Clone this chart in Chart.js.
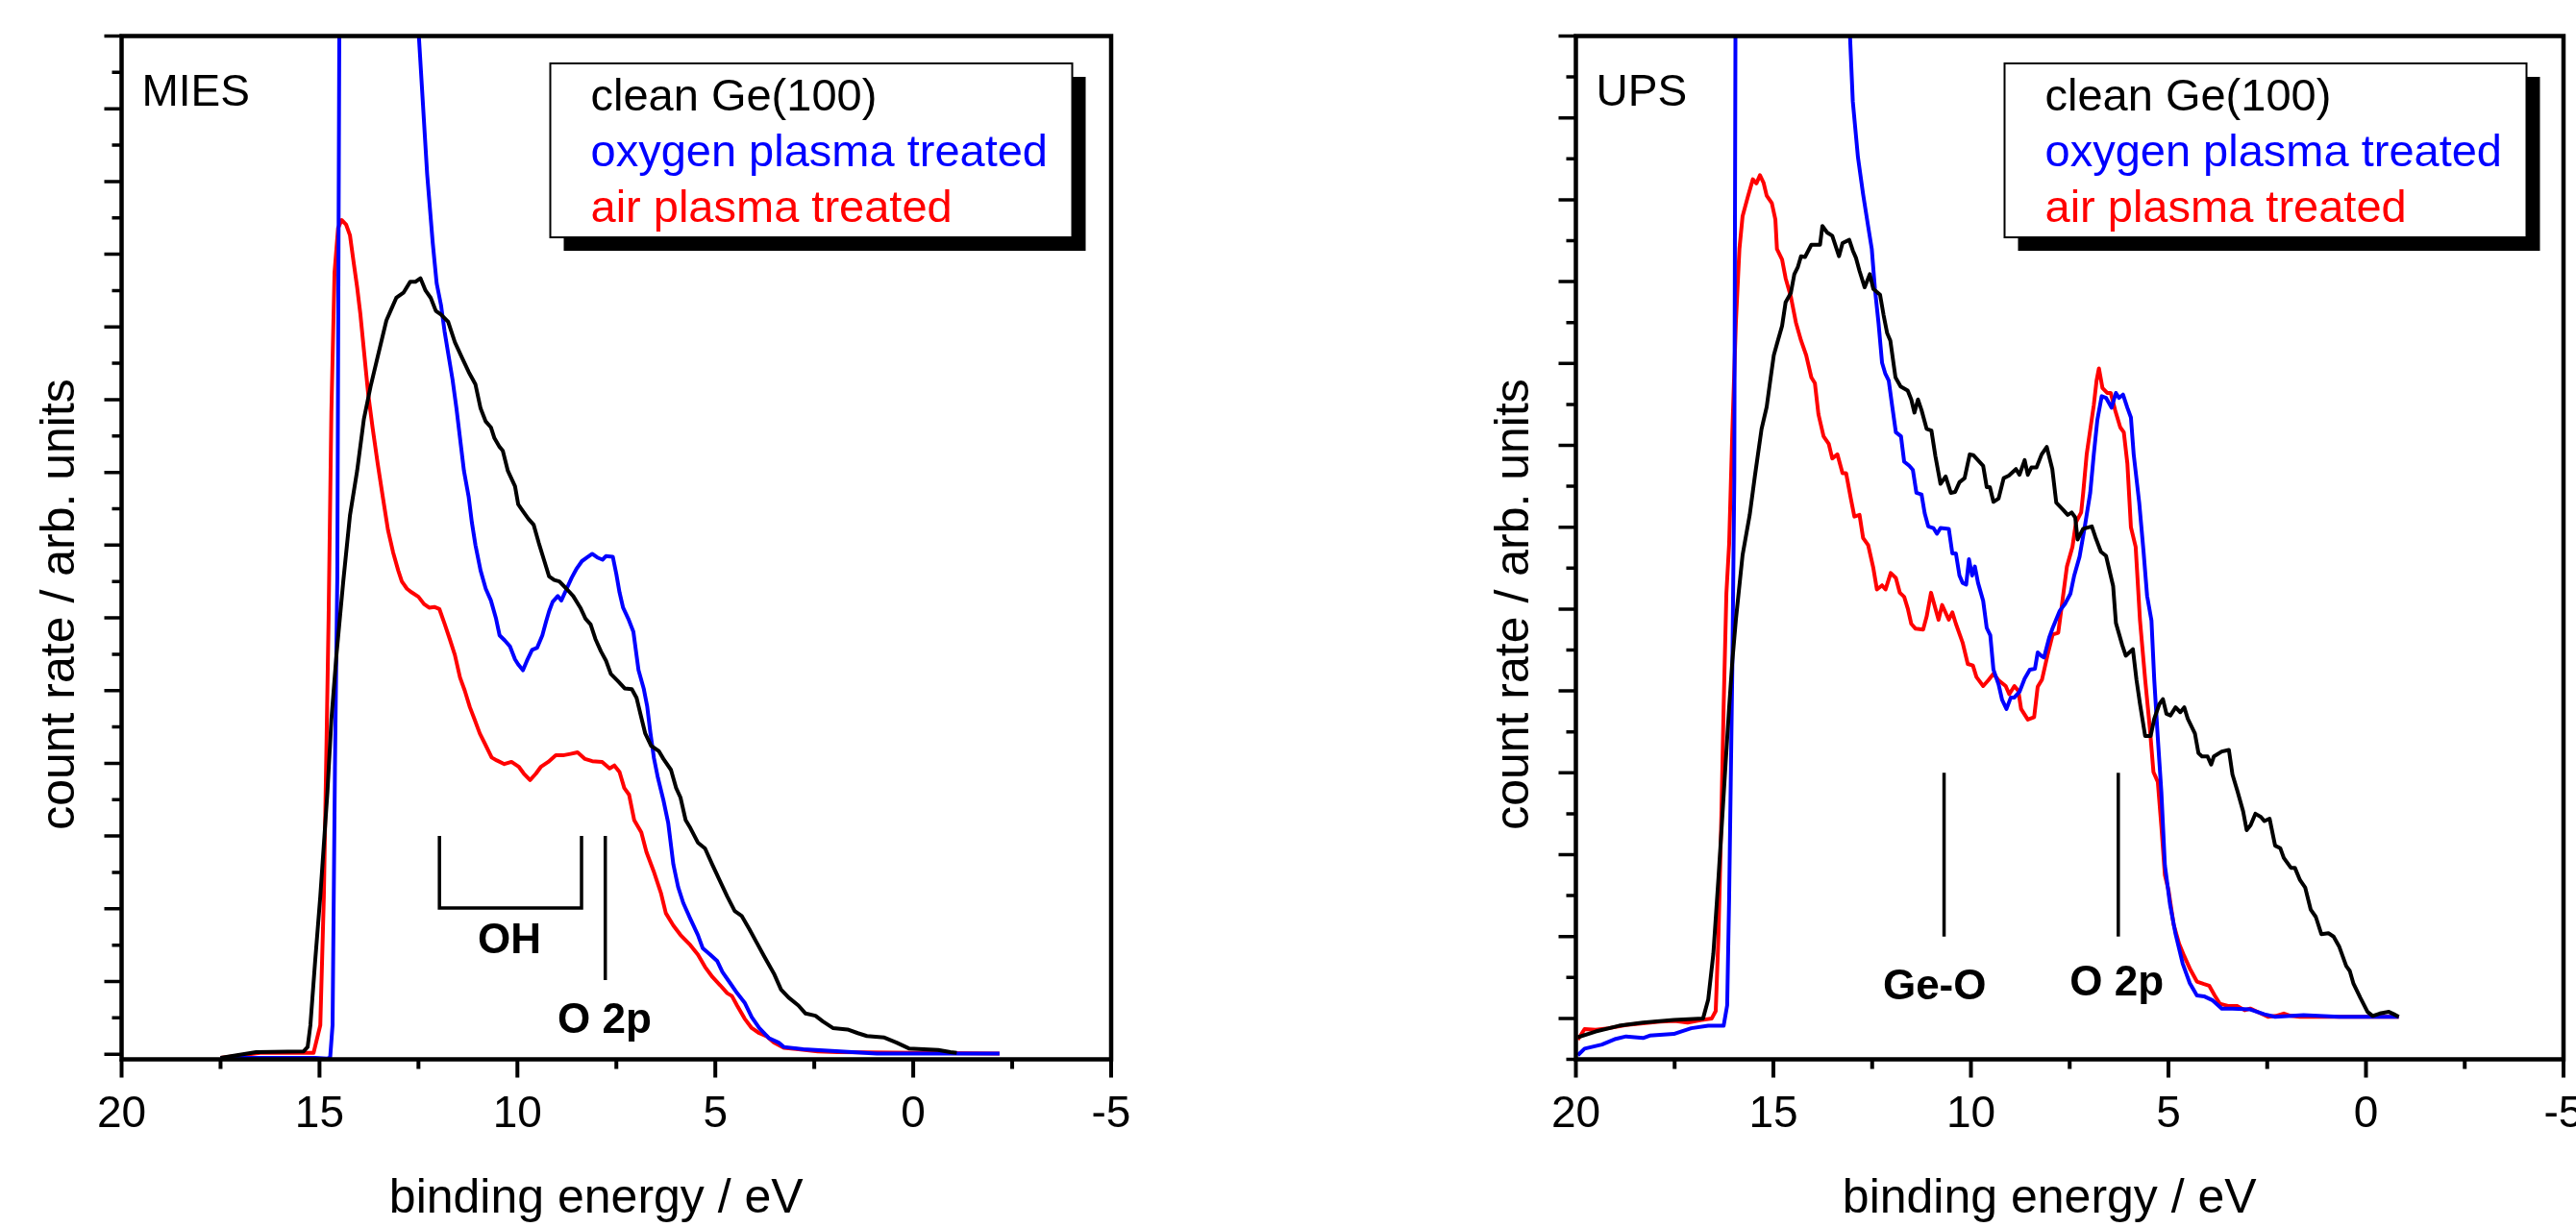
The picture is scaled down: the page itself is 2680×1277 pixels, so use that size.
<!DOCTYPE html>
<html>
<head>
<meta charset="utf-8">
<script src="https://cdn.jsdelivr.net/npm/chart.js@4.4.1/dist/chart.umd.min.js"></script>
<style>
  body { margin: 0; background: #fff; }
  #wrap { display: flex; width: 2680px; height: 1277px; }
  canvas { display: block; }
</style>
</head>
<body>
<div id="wrap">
  <canvas id="mies" width="1340" height="1277"></canvas>
  <canvas id="ups" width="1340" height="1277"></canvas>
</div>
<script>
// series names and colours
var seriesNames = ['clean Ge(100)', 'oxygen plasma treated', 'air plasma treated'];
var seriesColors = ['#000000', '#0000ff', '#ff0000'];

// x axis ticks (binding energy / eV)
var xMajorTicks = [20, 15, 10, 5, 0, -5];
var xMinorTicks = [17.5, 12.5, 7.5, 2.5, -2.5];

// MIES panel, clean Ge(100)
var miesCleanE = [17.5, 16.6, 15.4, 15.3, 15.23, 15.11, 14.98, 14.8, 14.7, 14.57, 14.4, 14.23, 14.05, 13.88, 13.71, 13.53, 13.31, 13.19, 13.06, 12.88, 12.71, 12.58, 12.45, 12.32, 12.19, 12.06, 11.93, 11.75, 11.58, 11.41, 11.23, 11.06, 10.93, 10.8, 10.67, 10.58, 10.45, 10.37, 10.24, 10.06, 9.98, 9.85, 9.72, 9.59, 9.46, 9.33, 9.2, 9.07, 8.94, 8.76, 8.59, 8.41, 8.28, 8.15, 8.03, 7.89, 7.76, 7.64, 7.46, 7.29, 7.11, 6.99, 6.87, 6.77, 6.62, 6.43, 6.31, 6.12, 5.99, 5.88, 5.75, 5.63, 5.44, 5.26, 5.07, 4.88, 4.7, 4.51, 4.33, 4.14, 3.95, 3.77, 3.52, 3.34, 3.15, 2.9, 2.72, 2.47, 2.28, 2.03, 1.66, 1.4, 1.17, 0.73, 0.42, 0.11, -0.26, -0.63, -0.94, -1.1];
var miesCleanY = [-0.05, 0.03, 0.04, 0.1, 0.4, 1.28, 2.17, 3.6, 4.6, 5.5, 6.5, 7.41, 8.02, 8.73, 9.18, 9.59, 10.09, 10.24, 10.4, 10.47, 10.62, 10.62, 10.67, 10.5, 10.4, 10.22, 10.17, 10.07, 9.79, 9.59, 9.38, 9.21, 8.88, 8.7, 8.62, 8.47, 8.35, 8.3, 8.02, 7.81, 7.56, 7.46, 7.36, 7.28, 7.03, 6.8, 6.57, 6.52, 6.5, 6.4, 6.3, 6.14, 5.99, 5.91, 5.71, 5.54, 5.41, 5.23, 5.13, 5.03, 5.02, 4.9, 4.63, 4.41, 4.24, 4.17, 4.06, 3.91, 3.66, 3.53, 3.22, 3.11, 2.91, 2.83, 2.6, 2.38, 2.17, 1.97, 1.9, 1.72, 1.53, 1.35, 1.11, 0.89, 0.78, 0.67, 0.56, 0.53, 0.45, 0.36, 0.34, 0.29, 0.25, 0.23, 0.16, 0.08, 0.07, 0.06, 0.03, 0.02];

// MIES panel, oxygen plasma treated (peak runs off the top of the frame)
var miesOxygenE = [17.5, 15.1, 14.8, 14.73, 14.67, 14.61, 14.55, 14.5, 14.45, 13.5, 12.7, 12.49, 12.28, 12.14, 12.04, 11.93, 11.84, 11.75, 11.64, 11.54, 11.45, 11.35, 11.23, 11.15, 11.06, 10.93, 10.8, 10.67, 10.54, 10.45, 10.32, 10.19, 10.06, 9.98, 9.86, 9.76, 9.63, 9.5, 9.37, 9.28, 9.2, 9.11, 8.98, 8.89, 8.78, 8.63, 8.5, 8.37, 8.24, 8.11, 7.98, 7.85, 7.76, 7.59, 7.5, 7.42, 7.33, 7.2, 7.07, 6.94, 6.81, 6.72, 6.64, 6.55, 6.45, 6.31, 6.19, 6.06, 5.94, 5.81, 5.63, 5.44, 5.32, 5.13, 4.95, 4.82, 4.64, 4.45, 4.26, 4.08, 3.89, 3.64, 3.4, 3.27, 2.78, 2.16, 0.92, -2.18];
var miesOxygenY = [-0.05, -0.05, -0.06, -0.04, 0.4, 3.93, 6.57, 14, 17, 30, 17, 14, 12.1, 11.16, 10.6, 10.3, 9.94, 9.64, 9.28, 8.88, 8.47, 8.02, 7.66, 7.31, 7.0, 6.65, 6.4, 6.24, 5.99, 5.76, 5.69, 5.61, 5.43, 5.36, 5.28, 5.41, 5.56, 5.59, 5.76, 5.94, 6.09, 6.22, 6.3, 6.24, 6.37, 6.55, 6.68, 6.78, 6.83, 6.88, 6.83, 6.8, 6.85, 6.84, 6.6, 6.35, 6.14, 5.99, 5.81, 5.28, 5.03, 4.78, 4.42, 4.07, 3.8, 3.49, 3.18, 2.61, 2.3, 2.08, 1.86, 1.64, 1.46, 1.37, 1.28, 1.13, 0.99, 0.84, 0.71, 0.51, 0.36, 0.22, 0.16, 0.1, 0.07, 0.05, 0.01, 0.01];

// MIES panel, air plasma treated
var miesAirE = [17.5, 16.5, 15.15, 14.98, 14.89, 14.82, 14.77, 14.7, 14.62, 14.53, 14.44, 14.33, 14.23, 14.14, 14.05, 13.97, 13.88, 13.77, 13.66, 13.53, 13.4, 13.27, 13.14, 13.01, 12.92, 12.79, 12.67, 12.5, 12.36, 12.23, 12.1, 11.97, 11.84, 11.71, 11.58, 11.45, 11.33, 11.2, 11.08, 10.95, 10.83, 10.65, 10.52, 10.33, 10.15, 9.96, 9.84, 9.68, 9.53, 9.41, 9.22, 9.03, 8.85, 8.66, 8.48, 8.29, 8.11, 7.86, 7.67, 7.55, 7.42, 7.3, 7.18, 7.05, 6.87, 6.74, 6.56, 6.37, 6.25, 6.06, 5.88, 5.63, 5.44, 5.26, 5.07, 4.88, 4.7, 4.58, 4.45, 4.26, 4.08, 3.89, 3.71, 3.52, 3.27, 2.9, 2.41, 1.91, -2.18];
var miesAirY = [-0.05, 0.02, 0.02, 0.4, 2.17, 4.37, 6.0, 8.83, 10.75, 11.36, 11.47, 11.41, 11.26, 10.9, 10.55, 10.19, 9.69, 9.08, 8.62, 8.12, 7.66, 7.21, 6.9, 6.65, 6.5, 6.4, 6.35, 6.29, 6.19, 6.14, 6.15, 6.12, 5.92, 5.71, 5.49, 5.18, 5.0, 4.77, 4.6, 4.41, 4.28, 4.08, 4.04, 3.99, 4.02, 3.95, 3.86, 3.77, 3.86, 3.95, 4.02, 4.11, 4.11, 4.13, 4.15, 4.06, 4.03, 4.02, 3.93, 3.97, 3.88, 3.66, 3.57, 3.22, 3.05, 2.78, 2.52, 2.21, 1.94, 1.77, 1.64, 1.5, 1.37, 1.2, 1.06, 0.95, 0.84, 0.8, 0.67, 0.49, 0.36, 0.29, 0.25, 0.16, 0.09, 0.07, 0.04, 0.03, 0.01];

// UPS panel, clean Ge(100)
var upsCleanE = [19.95, 19.5, 18.91, 18.3, 17.52, 16.78, 16.65, 16.52, 16.39, 16.3, 16.21, 16.12, 16.04, 15.95, 15.78, 15.6, 15.47, 15.3, 15.17, 15.08, 14.99, 14.91, 14.78, 14.69, 14.56, 14.47, 14.38, 14.3, 14.2, 14.04, 13.82, 13.76, 13.64, 13.51, 13.34, 13.25, 13.08, 12.99, 12.91, 12.82, 12.69, 12.56, 12.47, 12.3, 12.21, 12.12, 12.04, 11.91, 11.78, 11.6, 11.51, 11.43, 11.34, 11.25, 11.12, 11.0, 10.9, 10.77, 10.64, 10.51, 10.4, 10.29, 10.16, 10.03, 9.94, 9.69, 9.6, 9.52, 9.43, 9.3, 9.17, 9.04, 8.86, 8.77, 8.64, 8.56, 8.47, 8.34, 8.21, 8.08, 7.94, 7.84, 7.66, 7.55, 7.45, 7.36, 7.3, 7.16, 6.94, 6.85, 6.71, 6.58, 6.4, 6.33, 6.17, 6.08, 5.9, 5.81, 5.72, 5.59, 5.45, 5.36, 5.23, 5.14, 5.05, 4.95, 4.82, 4.7, 4.6, 4.51, 4.33, 4.24, 4.15, 4.01, 3.92, 3.85, 3.65, 3.47, 3.38, 3.25, 3.11, 3.02, 2.92, 2.8, 2.66, 2.57, 2.44, 2.3, 2.17, 2.08, 1.9, 1.8, 1.67, 1.54, 1.4, 1.27, 1.13, 0.95, 0.82, 0.68, 0.5, 0.41, 0.32, 0.14, -0.04, -0.17, -0.35, -0.58, -0.71, -0.83];
var upsCleanY = [-0.23, -0.16, -0.09, -0.05, -0.02, 0.0, 0.23, 0.79, 1.72, 2.41, 3.11, 3.8, 4.36, 4.87, 5.66, 6.15, 6.62, 7.2, 7.47, 7.79, 8.1, 8.24, 8.46, 8.75, 8.86, 9.09, 9.18, 9.31, 9.3, 9.45, 9.45, 9.68, 9.6, 9.56, 9.31, 9.47, 9.51, 9.38, 9.29, 9.13, 8.93, 9.09, 8.91, 8.84, 8.59, 8.37, 8.28, 7.83, 7.72, 7.67, 7.56, 7.4, 7.56, 7.43, 7.2, 7.18, 6.87, 6.53, 6.62, 6.42, 6.43, 6.55, 6.6, 6.89, 6.88, 6.75, 6.49, 6.49, 6.31, 6.35, 6.6, 6.63, 6.71, 6.64, 6.82, 6.64, 6.73, 6.73, 6.89, 6.98, 6.71, 6.3, 6.21, 6.15, 6.18, 6.12, 5.85, 5.98, 6.01, 5.88, 5.7, 5.65, 5.28, 4.83, 4.56, 4.43, 4.51, 4.14, 3.84, 3.45, 3.45, 3.66, 3.84, 3.9, 3.72, 3.7, 3.8, 3.74, 3.8, 3.66, 3.48, 3.24, 3.2, 3.2, 3.1, 3.2, 3.26, 3.28, 2.98, 2.77, 2.53, 2.3, 2.36, 2.5, 2.46, 2.41, 2.44, 2.11, 2.08, 1.96, 1.84, 1.84, 1.69, 1.6, 1.33, 1.24, 1.03, 1.04, 1.0, 0.88, 0.64, 0.58, 0.43, 0.25, 0.08, 0.03, 0.06, 0.08, 0.05, 0.02];

// UPS panel, oxygen plasma treated (peak runs off the top of the frame)
var upsOxygenE = [19.95, 19.78, 19.34, 18.99, 18.73, 18.3, 18.13, 17.52, 17.34, 17.08, 16.65, 16.26, 16.17, 16.12, 16.08, 16.04, 15.99, 15.95, 14.5, 13.15, 12.99, 12.86, 12.73, 12.6, 12.51, 12.43, 12.34, 12.25, 12.17, 12.08, 11.99, 11.9, 11.77, 11.69, 11.56, 11.47, 11.38, 11.25, 11.17, 11.08, 10.95, 10.86, 10.77, 10.56, 10.47, 10.38, 10.29, 10.21, 10.12, 10.05, 9.97, 9.9, 9.82, 9.69, 9.6, 9.51, 9.43, 9.3, 9.21, 9.1, 8.99, 8.9, 8.77, 8.64, 8.51, 8.38, 8.31, 8.22, 8.15, 8.02, 7.93, 7.75, 7.61, 7.48, 7.39, 7.25, 7.12, 6.98, 6.89, 6.8, 6.69, 6.58, 6.44, 6.33, 6.25, 6.15, 6.04, 5.95, 5.88, 5.74, 5.63, 5.54, 5.43, 5.36, 5.27, 5.18, 5.09, 4.96, 4.82, 4.64, 4.46, 4.28, 4.1, 3.88, 3.65, 3.38, 2.93, 2.57, 2.3, 1.58, 0.68, -0.83];
var upsOxygenY = [-0.45, -0.37, -0.32, -0.25, -0.22, -0.24, -0.21, -0.19, -0.16, -0.12, -0.09, -0.09, 0.16, 1.48, 2.87, 4.27, 6.58, 14, 30, 13, 11.2, 10.52, 10.07, 9.67, 9.4, 8.91, 8.5, 8.01, 7.88, 7.79, 7.47, 7.16, 7.11, 6.8, 6.75, 6.7, 6.42, 6.4, 6.17, 6.01, 5.99, 5.92, 5.99, 5.98, 5.68, 5.68, 5.41, 5.32, 5.3, 5.61, 5.41, 5.52, 5.32, 5.1, 4.77, 4.68, 4.26, 4.08, 3.89, 3.78, 3.92, 3.92, 3.99, 4.15, 4.26, 4.27, 4.47, 4.43, 4.41, 4.65, 4.77, 4.98, 5.07, 5.19, 5.4, 5.64, 6.0, 6.42, 6.89, 7.31, 7.6, 7.58, 7.46, 7.64, 7.58, 7.62, 7.46, 7.34, 6.89, 6.3, 5.7, 5.16, 4.86, 4.14, 3.43, 2.77, 1.87, 1.39, 1.03, 0.67, 0.43, 0.28, 0.27, 0.22, 0.12, 0.12, 0.11, 0.05, 0.02, 0.04, 0.02, 0.02];

// UPS panel, air plasma treated
var upsAirE = [19.95, 19.78, 19.5, 19.17, 18.73, 18.3, 17.87, 17.5, 17.17, 16.82, 16.56, 16.46, 16.39, 16.32, 16.26, 16.19, 16.12, 16.04, 15.95, 15.86, 15.78, 15.65, 15.52, 15.43, 15.34, 15.25, 15.17, 15.04, 14.95, 14.91, 14.78, 14.69, 14.56, 14.43, 14.3, 14.17, 14.04, 13.95, 13.86, 13.73, 13.6, 13.51, 13.38, 13.25, 13.16, 13.04, 12.95, 12.82, 12.73, 12.6, 12.47, 12.38, 12.25, 12.16, 12.03, 11.9, 11.8, 11.69, 11.6, 11.51, 11.4, 11.21, 11.12, 11.01, 10.82, 10.73, 10.56, 10.47, 10.38, 10.21, 10.08, 9.95, 9.86, 9.69, 9.56, 9.43, 9.3, 9.12, 9.03, 8.9, 8.8, 8.73, 8.56, 8.4, 8.31, 8.2, 8.06, 7.93, 7.79, 7.7, 7.57, 7.43, 7.34, 7.21, 7.16, 7.07, 6.98, 6.89, 6.82, 6.76, 6.67, 6.55, 6.46, 6.35, 6.22, 6.13, 6.04, 5.95, 5.83, 5.72, 5.59, 5.47, 5.38, 5.27, 5.18, 5.09, 5.0, 4.87, 4.73, 4.6, 4.46, 4.28, 4.1, 3.97, 3.83, 3.7, 3.47, 3.25, 3.07, 2.93, 2.66, 2.48, 2.28, 2.08, 1.9, 1.67, -0.83];
var upsAirY = [-0.26, -0.13, -0.14, -0.12, -0.08, -0.06, -0.04, -0.03, -0.05, -0.02, 0.0, 0.09, 1.02, 2.41, 3.8, 5.19, 5.8, 7.16, 8.5, 9.4, 9.8, 10.03, 10.25, 10.2, 10.3, 10.21, 10.05, 9.96, 9.76, 9.4, 9.27, 9.04, 8.82, 8.5, 8.28, 8.1, 7.83, 7.76, 7.38, 7.11, 7.02, 6.84, 6.89, 6.66, 6.66, 6.35, 6.13, 6.15, 5.87, 5.78, 5.5, 5.24, 5.29, 5.24, 5.44, 5.38, 5.2, 5.15, 5.01, 4.82, 4.76, 4.75, 4.91, 5.2, 4.87, 5.05, 4.87, 4.96, 4.82, 4.59, 4.33, 4.31, 4.17, 4.06, 4.13, 4.21, 4.13, 4.06, 3.96, 4.06, 4.0, 3.78, 3.65, 3.68, 4.05, 4.14, 4.44, 4.69, 4.71, 5.04, 5.52, 5.76, 6.06, 6.18, 6.41, 6.89, 7.19, 7.49, 7.79, 7.94, 7.7, 7.64, 7.64, 7.43, 7.22, 7.16, 6.78, 6.0, 5.76, 4.86, 4.14, 3.54, 3.01, 2.89, 2.35, 1.75, 1.57, 1.15, 0.91, 0.76, 0.61, 0.45, 0.42, 0.4, 0.28, 0.18, 0.15, 0.15, 0.1, 0.12, 0.06, 0.02, 0.03, 0.06, 0.03, 0.02, 0.02];

// marker lines and labels, in data units (energy, count rate)
var miesMarks = [
  [[11.97, 3.0], [11.97, 2.01], [8.38, 2.01], [8.38, 3.0]],
  [[7.78, 3.0], [7.78, 1.02]]
];
var miesNotes = [['OH', 10.2, 1.39], ['O 2p', 7.8, 0.29]];
var upsMarks = [
  [[10.68, 3.0], [10.68, 1.0]],
  [[6.27, 3.0], [6.27, 1.0]]
];
var upsNotes = [['Ge-O', 10.92, 0.23], ['O 2p', 6.31, 0.28]];

var FONT = "'Liberation Sans', Arial, sans-serif";

function toPoints(es, ys) {
  var pts = [];
  for (var i = 0; i < es.length; i++) {
    pts.push({ x: es[i], y: ys[i] });
  }
  return pts;
}

// frame, ticks, titles, legend box and markers
var framePlugin = {
  id: 'frame',
  afterDraw: function (chart, args, opts) {
    var ctx = chart.ctx;
    var a = chart.chartArea;
    var xs = chart.scales.x;
    var ys = chart.scales.y;
    ctx.save();
    ctx.strokeStyle = '#000';
    ctx.fillStyle = '#000';
    ctx.lineCap = 'butt';

    // x ticks below the frame
    ctx.lineWidth = 4;
    ctx.beginPath();
    xMajorTicks.forEach(function (v) {
      var px = xs.getPixelForValue(v);
      ctx.moveTo(px, a.bottom);
      ctx.lineTo(px, a.bottom + 19);
    });
    xMinorTicks.forEach(function (v) {
      var px = xs.getPixelForValue(v);
      ctx.moveTo(px, a.bottom);
      ctx.lineTo(px, a.bottom + 10);
    });
    ctx.stroke();

    // y ticks on the left side, every half unit
    ctx.lineWidth = 3.5;
    ctx.beginPath();
    for (var v = Math.ceil(ys.min * 2) / 2; v <= ys.max + 1e-9; v += 0.5) {
      var py = ys.getPixelForValue(v);
      var len = Math.abs(v - Math.round(v)) < 1e-6 ? 18 : 10;
      ctx.moveTo(a.left, py);
      ctx.lineTo(a.left - len, py);
    }
    ctx.stroke();

    // frame
    ctx.lineWidth = 4.5;
    ctx.strokeRect(a.left, a.top, a.right - a.left, a.bottom - a.top);

    // axis titles
    ctx.font = '50px ' + FONT;
    ctx.textAlign = 'center';
    ctx.textBaseline = 'alphabetic';
    ctx.fillText('binding energy / eV', (a.left + a.right) / 2 - 21, 1262);
    ctx.save();
    ctx.translate(a.left - 63, 629);
    ctx.rotate(-Math.PI / 2);
    ctx.textBaseline = 'middle';
    ctx.fillText('count rate / arb. units', 0, 0);
    ctx.restore();

    // panel label
    ctx.font = '46px ' + FONT;
    ctx.textAlign = 'left';
    ctx.fillText(opts.panel, a.left + 21, 110);

    // legend box with shadow
    var bx = a.left + 446, by = 66, bw = 543, bh = 181;
    ctx.fillRect(bx + 14, by + 14, bw, bh);
    ctx.fillStyle = '#fff';
    ctx.fillRect(bx, by, bw, bh);
    ctx.lineWidth = 2;
    ctx.strokeRect(bx, by, bw, bh);
    ctx.font = '47px ' + FONT;
    chart.data.datasets.forEach(function (ds, i) {
      ctx.fillStyle = ds.borderColor;
      ctx.fillText(ds.label, bx + 42, 115 + i * 58);
    });

    // marker lines
    ctx.lineWidth = 3.5;
    opts.marks.forEach(function (path) {
      ctx.beginPath();
      path.forEach(function (p, j) {
        var px = xs.getPixelForValue(p[0]);
        var py = ys.getPixelForValue(p[1]);
        if (j === 0) ctx.moveTo(px, py); else ctx.lineTo(px, py);
      });
      ctx.stroke();
    });
    ctx.fillStyle = '#000';
    ctx.font = 'bold 44px ' + FONT;
    ctx.textAlign = 'center';
    opts.notes.forEach(function (n) {
      ctx.fillText(n[0], xs.getPixelForValue(n[1]), ys.getPixelForValue(n[2]));
    });
    ctx.restore();
  }
};

function makeChart(id, sets, yMin, yMax, padLeft, padRight, panel, marks, notes) {
  var datasets = sets.map(function (s, i) {
    return {
      label: seriesNames[i],
      data: toPoints(s[0], s[1]),
      borderColor: seriesColors[i],
      borderWidth: 4,
      borderJoinStyle: 'round',
      pointRadius: 0,
      tension: 0,
      fill: false
    };
  });
  return new Chart(document.getElementById(id).getContext('2d'), {
    type: 'line',
    data: { datasets: datasets },
    options: {
      responsive: false,
      animation: false,
      devicePixelRatio: 1,
      layout: { padding: { left: padLeft, right: padRight, top: 37.5, bottom: 0 } },
      plugins: {
        legend: { display: false },
        tooltip: { enabled: false },
        frame: { panel: panel, marks: marks, notes: notes }
      },
      scales: {
        x: {
          type: 'linear',
          reverse: true,
          min: -5,
          max: 20,
          afterFit: function (s) {
            s.height = 174.5;
            s.paddingLeft = 0;
            s.paddingRight = 0;
          },
          grid: { display: false, drawTicks: false },
          border: { display: false },
          ticks: {
            stepSize: 5,
            padding: 30,
            color: '#000',
            maxRotation: 0,
            autoSkip: false,
            font: { family: FONT, size: 46 }
          }
        },
        y: { type: 'linear', display: false, min: yMin, max: yMax }
      }
    },
    plugins: [framePlugin]
  });
}

makeChart('mies',
  [[miesCleanE, miesCleanY], [miesOxygenE, miesOxygenY], [miesAirE, miesAirY]],
  -0.07, 14, 126.5, 184, 'MIES', miesMarks, miesNotes);

makeChart('ups',
  [[upsCleanE, upsCleanY], [upsOxygenE, upsOxygenY], [upsAirE, upsAirY]],
  -0.5, 12, 299.5, 13, 'UPS', upsMarks, upsNotes);
</script>
</body>
</html>
